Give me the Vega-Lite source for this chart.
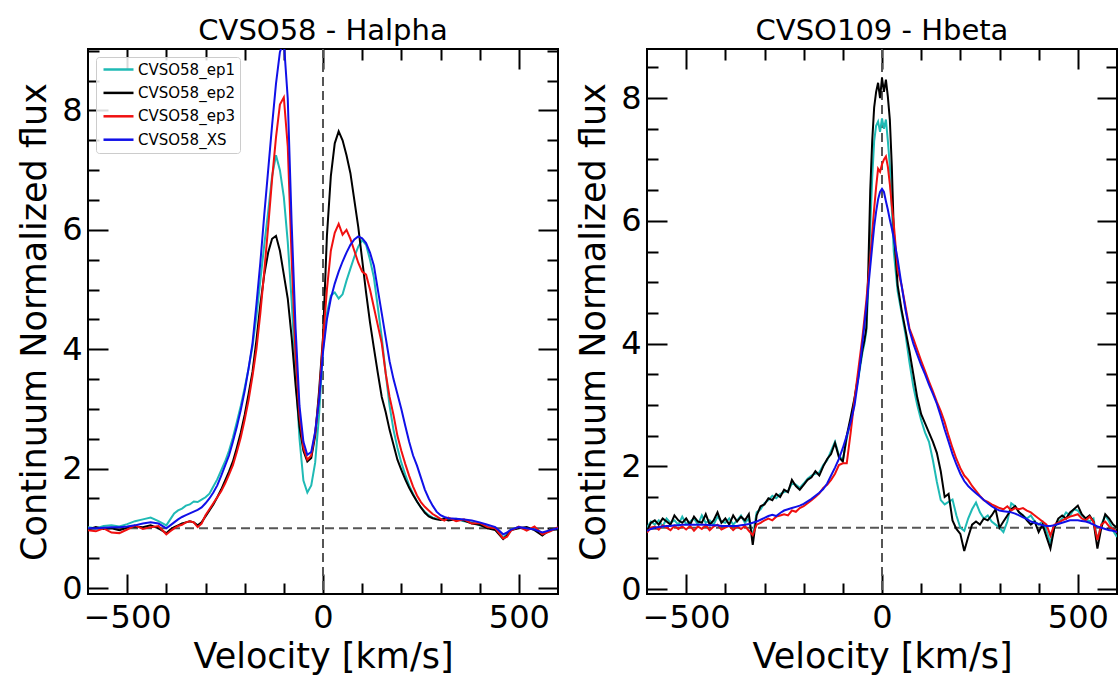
{
  "$schema": "https://vega.github.io/schema/vega-lite/v6.json",
  "background": "white",
  "padding": {"left": 16, "top": 16, "right": 0, "bottom": 0},
  "spacing": 15,
  "config": {
    "font": "DejaVu Sans",
    "view": {"stroke": "black", "strokeWidth": 2},
    "axis": {"grid": false, "domain": false, "tickColor": "black", "tickWidth": 2, "labelColor": "black", "titleColor": "black", "labelFont": "DejaVu Sans", "titleFont": "DejaVu Sans", "titleFontWeight": "normal", "labelFontSize": 32, "titleFontSize": 35},
    "title": {"font": "DejaVu Sans", "fontSize": 29, "fontWeight": "normal", "color": "black", "offset": 2, "frame": "group"},
    "legend": {"labelFont": "DejaVu Sans", "labelFontSize": 15, "labelColor": "black", "symbolType": "M-3,0H3", "symbolSize": 100, "symbolOffset": 10, "symbolStrokeWidth": 2.5, "fillColor": "rgba(255,255,255,0.85)", "strokeColor": "#cccccc", "padding": 5, "cornerRadius": 3, "labelOffset": 12, "rowPadding": 7.4}
  },
  "hconcat": [
    {
      "title": {"text": "CVSO58 - Halpha"},
      "width": 470,
      "height": 545,
      "layer": [
        {
          "data": {"values": [{"f": 1}]},
          "mark": {"type": "rule", "color": "#555555", "strokeWidth": 2, "strokeDash": [9, 5]},
          "encoding": {
            "y": {"field": "f", "type": "quantitative", "scale": {"domain": [-0.1, 9.03], "nice": false, "zero": false},
              "axis": {"orient": "right", "values": [0,2,4,6,8], "labels": false, "title": null, "tickSize": -20}}
          }
        },
        {
          "data": {"values": [{"v": 0}]},
          "mark": {"type": "rule", "color": "#555555", "strokeWidth": 2, "strokeDash": [9, 5]},
          "encoding": {
            "x": {"field": "v", "type": "quantitative", "scale": {"domain": [-600, 600], "nice": false, "zero": false},
              "axis": {"orient": "top", "values": [-500,0,500], "labels": false, "title": null, "tickSize": -20}}
          }
        },
        {
          "data": {"values": [{"v": 0, "f": 1}]},
          "mark": {"type": "point", "opacity": 0},
          "encoding": {
            "x": {"field": "v", "type": "quantitative", "scale": {"domain": [-600, 600], "nice": false, "zero": false},
              "axis": {"orient": "bottom", "values": [-500,0,500], "labels": false, "title": null, "tickSize": -20}},
            "y": {"field": "f", "type": "quantitative", "scale": {"domain": [-0.1, 9.03], "nice": false, "zero": false},
              "axis": {"orient": "left", "values": [0,2,4,6,8], "labels": false, "title": null, "tickSize": -20}}
          }
        },
        {
          "data": {"values": [{"v": 0, "f": 1}]},
          "mark": {"type": "point", "opacity": 0},
          "encoding": {
            "x": {"field": "v", "type": "quantitative", "scale": {"domain": [-600, 600], "nice": false, "zero": false},
              "axis": {"orient": "bottom", "values": [-400,-300,-200,-100,100,200,300,400], "labels": false, "title": null, "tickSize": -11}},
            "y": {"field": "f", "type": "quantitative", "scale": {"domain": [-0.1, 9.03], "nice": false, "zero": false},
              "axis": {"orient": "left", "values": [0.5,1,1.5,2.5,3,3.5,4.5,5,5.5,6.5,7,7.5,8.5,9], "labels": false, "title": null, "tickSize": -11}}
          }
        },
        {
          "data": {"values": [{"v": 0, "f": 1}]},
          "mark": {"type": "point", "opacity": 0},
          "encoding": {
            "x": {"field": "v", "type": "quantitative", "scale": {"domain": [-600, 600], "nice": false, "zero": false},
              "axis": {"orient": "top", "values": [-400,-300,-200,-100,100,200,300,400], "labels": false, "title": null, "tickSize": -11}},
            "y": {"field": "f", "type": "quantitative", "scale": {"domain": [-0.1, 9.03], "nice": false, "zero": false},
              "axis": {"orient": "right", "values": [0.5,1,1.5,2.5,3,3.5,4.5,5,5.5,6.5,7,7.5,8.5,9], "labels": false, "title": null, "tickSize": -11}}
          }
        },
        {
          "data": {"values": [
            {"v":-600,"ep1":1.02,"ep2":0.98,"ep3":0.97,"XS":1.00},
            {"v":-580,"ep1":1.00,"ep2":1.02,"ep3":0.95,"XS":1.00},
            {"v":-560,"ep1":1.04,"ep2":0.99,"ep3":1.00,"XS":1.01},
            {"v":-540,"ep1":1.05,"ep2":1.00,"ep3":0.93,"XS":1.02},
            {"v":-520,"ep1":1.03,"ep2":0.97,"ep3":0.92,"XS":1.02},
            {"v":-500,"ep1":1.07,"ep2":1.01,"ep3":0.98,"XS":1.03},
            {"v":-480,"ep1":1.12,"ep2":1.03,"ep3":1.05,"XS":1.05},
            {"v":-460,"ep1":1.15,"ep2":1.02,"ep3":0.99,"XS":1.08},
            {"v":-440,"ep1":1.18,"ep2":1.05,"ep3":1.02,"XS":1.10},
            {"v":-420,"ep1":1.12,"ep2":1.00,"ep3":1.04,"XS":1.08},
            {"v":-400,"ep1":1.05,"ep2":0.92,"ep3":0.90,"XS":1.00},
            {"v":-390,"ep1":1.15,"ep2":0.98,"ep3":0.95,"XS":1.05},
            {"v":-380,"ep1":1.25,"ep2":1.02,"ep3":1.00,"XS":1.10},
            {"v":-370,"ep1":1.30,"ep2":1.05,"ep3":1.04,"XS":1.15},
            {"v":-360,"ep1":1.33,"ep2":1.08,"ep3":1.06,"XS":1.19},
            {"v":-350,"ep1":1.38,"ep2":1.10,"ep3":1.10,"XS":1.22},
            {"v":-340,"ep1":1.40,"ep2":1.12,"ep3":1.12,"XS":1.25},
            {"v":-330,"ep1":1.45,"ep2":1.10,"ep3":1.10,"XS":1.28},
            {"v":-320,"ep1":1.44,"ep2":1.05,"ep3":1.02,"XS":1.31},
            {"v":-310,"ep1":1.48,"ep2":1.10,"ep3":1.08,"XS":1.35},
            {"v":-300,"ep1":1.52,"ep2":1.20,"ep3":1.22,"XS":1.42},
            {"v":-290,"ep1":1.58,"ep2":1.30,"ep3":1.32,"XS":1.50},
            {"v":-280,"ep1":1.70,"ep2":1.40,"ep3":1.42,"XS":1.60},
            {"v":-270,"ep1":1.82,"ep2":1.52,"ep3":1.52,"XS":1.72},
            {"v":-260,"ep1":1.97,"ep2":1.65,"ep3":1.62,"XS":1.88},
            {"v":-250,"ep1":2.12,"ep2":1.80,"ep3":1.75,"XS":2.05},
            {"v":-240,"ep1":2.30,"ep2":1.95,"ep3":1.90,"XS":2.22},
            {"v":-230,"ep1":2.52,"ep2":2.12,"ep3":2.06,"XS":2.45},
            {"v":-220,"ep1":2.78,"ep2":2.35,"ep3":2.28,"XS":2.70},
            {"v":-210,"ep1":3.05,"ep2":2.60,"ep3":2.52,"XS":2.98},
            {"v":-200,"ep1":3.35,"ep2":2.90,"ep3":2.82,"XS":3.30},
            {"v":-190,"ep1":3.68,"ep2":3.25,"ep3":3.15,"XS":3.68},
            {"v":-180,"ep1":4.05,"ep2":3.62,"ep3":3.55,"XS":4.10},
            {"v":-170,"ep1":4.55,"ep2":4.15,"ep3":4.00,"XS":4.75},
            {"v":-160,"ep1":5.15,"ep2":4.75,"ep3":4.60,"XS":5.45},
            {"v":-150,"ep1":5.75,"ep2":5.25,"ep3":5.30,"XS":6.25},
            {"v":-140,"ep1":6.30,"ep2":5.62,"ep3":6.05,"XS":7.00},
            {"v":-130,"ep1":6.90,"ep2":5.85,"ep3":6.85,"XS":7.75},
            {"v":-120,"ep1":7.25,"ep2":5.90,"ep3":7.55,"XS":8.45},
            {"v":-110,"ep1":7.00,"ep2":5.65,"ep3":8.10,"XS":8.98},
            {"v":-100,"ep1":6.55,"ep2":5.25,"ep3":8.22,"XS":9.15},
            {"v":-90,"ep1":5.80,"ep2":4.85,"ep3":7.40,"XS":8.20},
            {"v":-80,"ep1":4.80,"ep2":4.20,"ep3":5.50,"XS":6.10},
            {"v":-70,"ep1":3.60,"ep2":3.40,"ep3":3.90,"XS":4.35},
            {"v":-60,"ep1":2.50,"ep2":2.70,"ep3":2.90,"XS":3.05},
            {"v":-50,"ep1":1.80,"ep2":2.30,"ep3":2.35,"XS":2.45},
            {"v":-40,"ep1":1.60,"ep2":2.12,"ep3":2.15,"XS":2.23},
            {"v":-30,"ep1":1.72,"ep2":2.18,"ep3":2.22,"XS":2.28},
            {"v":-20,"ep1":2.10,"ep2":2.55,"ep3":2.60,"XS":2.62},
            {"v":-10,"ep1":2.90,"ep2":3.30,"ep3":3.20,"XS":3.15},
            {"v":0,"ep1":4.00,"ep2":4.20,"ep3":4.15,"XS":3.95},
            {"v":10,"ep1":4.60,"ep2":5.90,"ep3":5.00,"XS":4.50},
            {"v":20,"ep1":4.90,"ep2":6.90,"ep3":5.65,"XS":4.85},
            {"v":30,"ep1":4.95,"ep2":7.45,"ep3":5.95,"XS":5.10},
            {"v":40,"ep1":4.85,"ep2":7.65,"ep3":6.10,"XS":5.30},
            {"v":50,"ep1":4.92,"ep2":7.50,"ep3":5.92,"XS":5.47},
            {"v":60,"ep1":5.15,"ep2":7.25,"ep3":6.00,"XS":5.62},
            {"v":70,"ep1":5.35,"ep2":6.95,"ep3":5.85,"XS":5.75},
            {"v":80,"ep1":5.55,"ep2":6.50,"ep3":5.65,"XS":5.84},
            {"v":90,"ep1":5.72,"ep2":6.05,"ep3":5.45,"XS":5.89},
            {"v":100,"ep1":5.83,"ep2":5.50,"ep3":5.30,"XS":5.86},
            {"v":110,"ep1":5.75,"ep2":4.95,"ep3":5.25,"XS":5.78},
            {"v":120,"ep1":5.50,"ep2":4.45,"ep3":5.00,"XS":5.62},
            {"v":130,"ep1":5.20,"ep2":4.02,"ep3":4.70,"XS":5.40},
            {"v":140,"ep1":4.70,"ep2":3.60,"ep3":4.40,"XS":5.00},
            {"v":150,"ep1":4.20,"ep2":3.20,"ep3":4.10,"XS":4.60},
            {"v":160,"ep1":3.60,"ep2":2.95,"ep3":3.60,"XS":4.20},
            {"v":170,"ep1":3.05,"ep2":2.65,"ep3":3.20,"XS":3.80},
            {"v":180,"ep1":2.65,"ep2":2.40,"ep3":2.90,"XS":3.50},
            {"v":190,"ep1":2.35,"ep2":2.15,"ep3":2.55,"XS":3.25},
            {"v":200,"ep1":2.10,"ep2":1.98,"ep3":2.30,"XS":3.00},
            {"v":210,"ep1":1.90,"ep2":1.82,"ep3":2.08,"XS":2.72},
            {"v":220,"ep1":1.72,"ep2":1.68,"ep3":1.88,"XS":2.45},
            {"v":230,"ep1":1.58,"ep2":1.56,"ep3":1.70,"XS":2.22},
            {"v":240,"ep1":1.45,"ep2":1.45,"ep3":1.55,"XS":2.05},
            {"v":250,"ep1":1.35,"ep2":1.35,"ep3":1.44,"XS":1.85},
            {"v":260,"ep1":1.28,"ep2":1.26,"ep3":1.36,"XS":1.65},
            {"v":270,"ep1":1.22,"ep2":1.20,"ep3":1.30,"XS":1.50},
            {"v":280,"ep1":1.18,"ep2":1.17,"ep3":1.24,"XS":1.38},
            {"v":290,"ep1":1.16,"ep2":1.15,"ep3":1.20,"XS":1.28},
            {"v":300,"ep1":1.15,"ep2":1.14,"ep3":1.16,"XS":1.22},
            {"v":310,"ep1":1.17,"ep2":1.16,"ep3":1.13,"XS":1.19},
            {"v":320,"ep1":1.14,"ep2":1.13,"ep3":1.18,"XS":1.17},
            {"v":340,"ep1":1.16,"ep2":1.15,"ep3":1.12,"XS":1.16},
            {"v":360,"ep1":1.12,"ep2":1.13,"ep3":1.15,"XS":1.15},
            {"v":380,"ep1":1.10,"ep2":1.08,"ep3":1.08,"XS":1.13},
            {"v":400,"ep1":1.05,"ep2":1.06,"ep3":1.09,"XS":1.10},
            {"v":420,"ep1":1.03,"ep2":1.00,"ep3":1.02,"XS":1.06},
            {"v":440,"ep1":0.98,"ep2":0.97,"ep3":1.00,"XS":1.02},
            {"v":460,"ep1":0.85,"ep2":0.82,"ep3":0.83,"XS":0.90},
            {"v":470,"ep1":0.90,"ep2":0.88,"ep3":0.86,"XS":0.93},
            {"v":480,"ep1":0.98,"ep2":0.97,"ep3":0.96,"XS":0.98},
            {"v":500,"ep1":1.02,"ep2":1.00,"ep3":1.03,"XS":1.02},
            {"v":520,"ep1":0.98,"ep2":1.02,"ep3":0.96,"XS":1.00},
            {"v":540,"ep1":1.00,"ep2":0.97,"ep3":1.03,"XS":0.98},
            {"v":560,"ep1":0.90,"ep2":0.88,"ep3":0.90,"XS":0.93},
            {"v":580,"ep1":0.96,"ep2":0.98,"ep3":0.95,"XS":0.97},
            {"v":600,"ep1":1.00,"ep2":0.98,"ep3":1.02,"XS":1.00}
          ]},
          "transform": [{"fold": ["ep1", "ep2", "ep3", "XS"], "as": ["series", "f"]}],
          "mark": {"type": "line", "strokeWidth": 2, "clip": true},
          "encoding": {
            "x": {"field": "v", "type": "quantitative", "scale": {"domain": [-600, 600], "nice": false, "zero": false},
              "axis": {"orient": "bottom", "values": [-500,0,500], "ticks": false, "labelExpr": "format(datum.value, 'd')", "title": "Velocity [km/s]", "labelPadding": 8, "titlePadding": 6}},
            "y": {"field": "f", "type": "quantitative", "scale": {"domain": [-0.1, 9.03], "nice": false, "zero": false},
              "axis": {"orient": "left", "values": [0,2,4,6,8], "ticks": false, "labelExpr": "format(datum.value, 'd')", "title": "Continuum Normalized flux", "labelPadding": 6, "titlePadding": 9}},
            "color": {"field": "series", "type": "nominal", "scale": {"domain": ["ep1", "ep2", "ep3", "XS"], "range": ["#1fbab5", "#000000", "#f01010", "#1010e8"]},
              "legend": {"orient": "top-left", "offset": 8, "title": null, "labelFontSize": 15, "labelExpr": "'CVSO58_' + datum.label"}}
          }
        }
      ],
      "resolve": {"axis": {"x": "independent", "y": "independent"}}
    },
    {
      "title": {"text": "CVSO109 - Hbeta"},
      "width": 470,
      "height": 545,
      "layer": [
        {
          "data": {"values": [{"f": 1}]},
          "mark": {"type": "rule", "color": "#555555", "strokeWidth": 2, "strokeDash": [9, 5]},
          "encoding": {
            "y": {"field": "f", "type": "quantitative", "scale": {"domain": [-0.08, 8.8], "nice": false, "zero": false},
              "axis": {"orient": "right", "values": [0,2,4,6,8], "labels": false, "title": null, "tickSize": -20}}
          }
        },
        {
          "data": {"values": [{"v": 0}]},
          "mark": {"type": "rule", "color": "#555555", "strokeWidth": 2, "strokeDash": [9, 5]},
          "encoding": {
            "x": {"field": "v", "type": "quantitative", "scale": {"domain": [-600, 600], "nice": false, "zero": false},
              "axis": {"orient": "top", "values": [-500,0,500], "labels": false, "title": null, "tickSize": -20}}
          }
        },
        {
          "data": {"values": [{"v": 0, "f": 1}]},
          "mark": {"type": "point", "opacity": 0},
          "encoding": {
            "x": {"field": "v", "type": "quantitative", "scale": {"domain": [-600, 600], "nice": false, "zero": false},
              "axis": {"orient": "bottom", "values": [-500,0,500], "labels": false, "title": null, "tickSize": -20}},
            "y": {"field": "f", "type": "quantitative", "scale": {"domain": [-0.08, 8.8], "nice": false, "zero": false},
              "axis": {"orient": "left", "values": [0,2,4,6,8], "labels": false, "title": null, "tickSize": -20}}
          }
        },
        {
          "data": {"values": [{"v": 0, "f": 1}]},
          "mark": {"type": "point", "opacity": 0},
          "encoding": {
            "x": {"field": "v", "type": "quantitative", "scale": {"domain": [-600, 600], "nice": false, "zero": false},
              "axis": {"orient": "bottom", "values": [-400,-300,-200,-100,100,200,300,400], "labels": false, "title": null, "tickSize": -11}},
            "y": {"field": "f", "type": "quantitative", "scale": {"domain": [-0.08, 8.8], "nice": false, "zero": false},
              "axis": {"orient": "left", "values": [0.5,1,1.5,2.5,3,3.5,4.5,5,5.5,6.5,7,7.5,8.5], "labels": false, "title": null, "tickSize": -11}}
          }
        },
        {
          "data": {"values": [{"v": 0, "f": 1}]},
          "mark": {"type": "point", "opacity": 0},
          "encoding": {
            "x": {"field": "v", "type": "quantitative", "scale": {"domain": [-600, 600], "nice": false, "zero": false},
              "axis": {"orient": "top", "values": [-400,-300,-200,-100,100,200,300,400], "labels": false, "title": null, "tickSize": -11}},
            "y": {"field": "f", "type": "quantitative", "scale": {"domain": [-0.08, 8.8], "nice": false, "zero": false},
              "axis": {"orient": "right", "values": [0.5,1,1.5,2.5,3,3.5,4.5,5,5.5,6.5,7,7.5,8.5], "labels": false, "title": null, "tickSize": -11}}
          }
        },
        {
          "data": {"values": [
            {"v":-600,"ep1":1.00,"ep2":0.95,"ep3":0.92,"XS":0.95},
            {"v":-590,"ep1":1.10,"ep2":1.08,"ep3":1.00,"XS":0.98},
            {"v":-580,"ep1":1.05,"ep2":1.12,"ep3":1.02,"XS":1.00},
            {"v":-570,"ep1":1.12,"ep2":1.05,"ep3":0.97,"XS":1.01},
            {"v":-560,"ep1":1.02,"ep2":1.15,"ep3":1.04,"XS":1.02},
            {"v":-550,"ep1":1.15,"ep2":1.10,"ep3":1.00,"XS":1.03},
            {"v":-540,"ep1":1.08,"ep2":1.05,"ep3":0.96,"XS":1.03},
            {"v":-530,"ep1":1.12,"ep2":1.20,"ep3":1.03,"XS":1.04},
            {"v":-520,"ep1":1.05,"ep2":1.12,"ep3":0.98,"XS":1.04},
            {"v":-510,"ep1":1.18,"ep2":1.08,"ep3":1.02,"XS":1.05},
            {"v":-500,"ep1":1.06,"ep2":1.15,"ep3":0.97,"XS":1.05},
            {"v":-490,"ep1":1.10,"ep2":1.05,"ep3":1.03,"XS":1.05},
            {"v":-480,"ep1":1.15,"ep2":1.18,"ep3":0.95,"XS":1.05},
            {"v":-470,"ep1":1.05,"ep2":1.10,"ep3":1.02,"XS":1.05},
            {"v":-460,"ep1":1.20,"ep2":1.08,"ep3":0.98,"XS":1.05},
            {"v":-450,"ep1":1.08,"ep2":1.22,"ep3":1.04,"XS":1.05},
            {"v":-440,"ep1":1.12,"ep2":1.05,"ep3":0.96,"XS":1.04},
            {"v":-430,"ep1":1.05,"ep2":1.12,"ep3":1.02,"XS":1.04},
            {"v":-420,"ep1":1.18,"ep2":1.25,"ep3":1.05,"XS":1.04},
            {"v":-410,"ep1":1.10,"ep2":1.08,"ep3":0.97,"XS":1.03},
            {"v":-400,"ep1":1.08,"ep2":1.15,"ep3":1.00,"XS":1.03},
            {"v":-390,"ep1":1.15,"ep2":1.05,"ep3":1.03,"XS":1.03},
            {"v":-380,"ep1":1.05,"ep2":1.20,"ep3":0.96,"XS":1.03},
            {"v":-370,"ep1":1.12,"ep2":1.10,"ep3":1.02,"XS":1.03},
            {"v":-360,"ep1":1.20,"ep2":1.18,"ep3":0.98,"XS":1.04},
            {"v":-350,"ep1":1.08,"ep2":1.12,"ep3":1.03,"XS":1.05},
            {"v":-340,"ep1":1.15,"ep2":1.22,"ep3":0.95,"XS":1.06},
            {"v":-330,"ep1":0.85,"ep2":0.72,"ep3":0.88,"XS":1.08},
            {"v":-320,"ep1":1.25,"ep2":1.20,"ep3":1.05,"XS":1.10},
            {"v":-310,"ep1":1.30,"ep2":1.35,"ep3":1.08,"XS":1.13},
            {"v":-300,"ep1":1.40,"ep2":1.38,"ep3":1.12,"XS":1.16},
            {"v":-290,"ep1":1.45,"ep2":1.48,"ep3":1.15,"XS":1.19},
            {"v":-280,"ep1":1.52,"ep2":1.45,"ep3":1.12,"XS":1.21},
            {"v":-270,"ep1":1.48,"ep2":1.55,"ep3":1.18,"XS":1.19},
            {"v":-260,"ep1":1.55,"ep2":1.50,"ep3":1.20,"XS":1.24},
            {"v":-250,"ep1":1.58,"ep2":1.62,"ep3":1.22,"XS":1.28},
            {"v":-240,"ep1":1.60,"ep2":1.58,"ep3":1.20,"XS":1.30},
            {"v":-230,"ep1":1.72,"ep2":1.78,"ep3":1.28,"XS":1.32},
            {"v":-220,"ep1":1.70,"ep2":1.68,"ep3":1.26,"XS":1.34},
            {"v":-210,"ep1":1.65,"ep2":1.62,"ep3":1.32,"XS":1.36},
            {"v":-200,"ep1":1.72,"ep2":1.70,"ep3":1.35,"XS":1.39},
            {"v":-190,"ep1":1.80,"ep2":1.78,"ep3":1.40,"XS":1.43},
            {"v":-180,"ep1":1.85,"ep2":1.82,"ep3":1.45,"XS":1.47},
            {"v":-170,"ep1":1.88,"ep2":1.92,"ep3":1.50,"XS":1.52},
            {"v":-160,"ep1":1.90,"ep2":1.85,"ep3":1.56,"XS":1.57},
            {"v":-150,"ep1":2.02,"ep2":2.00,"ep3":1.65,"XS":1.63},
            {"v":-140,"ep1":2.10,"ep2":2.12,"ep3":1.70,"XS":1.72},
            {"v":-130,"ep1":2.25,"ep2":2.20,"ep3":1.78,"XS":1.85},
            {"v":-120,"ep1":2.40,"ep2":2.38,"ep3":1.88,"XS":1.98},
            {"v":-110,"ep1":2.18,"ep2":2.15,"ep3":2.02,"XS":2.12},
            {"v":-100,"ep1":2.10,"ep2":2.08,"ep3":2.05,"XS":2.30},
            {"v":-90,"ep1":2.45,"ep2":2.50,"ep3":2.05,"XS":2.50},
            {"v":-80,"ep1":2.75,"ep2":2.80,"ep3":2.55,"XS":2.72},
            {"v":-70,"ep1":3.10,"ep2":3.12,"ep3":3.10,"XS":3.00},
            {"v":-60,"ep1":3.45,"ep2":3.50,"ep3":3.60,"XS":3.45},
            {"v":-50,"ep1":3.85,"ep2":3.90,"ep3":4.10,"XS":4.00},
            {"v":-45,"ep1":4.00,"ep2":4.05,"ep3":4.40,"XS":4.30},
            {"v":-40,"ep1":4.20,"ep2":4.25,"ep3":4.70,"XS":4.60},
            {"v":-35,"ep1":4.90,"ep2":5.20,"ep3":5.05,"XS":4.92},
            {"v":-30,"ep1":5.90,"ep2":6.50,"ep3":5.40,"XS":5.25},
            {"v":-25,"ep1":6.70,"ep2":7.30,"ep3":5.80,"XS":5.58},
            {"v":-20,"ep1":7.30,"ep2":7.85,"ep3":6.20,"XS":5.90},
            {"v":-15,"ep1":7.55,"ep2":8.10,"ep3":6.55,"XS":6.15},
            {"v":-10,"ep1":7.62,"ep2":8.25,"ep3":6.85,"XS":6.35},
            {"v":-5,"ep1":7.45,"ep2":8.00,"ep3":6.80,"XS":6.47},
            {"v":0,"ep1":7.67,"ep2":8.33,"ep3":6.92,"XS":6.52},
            {"v":5,"ep1":7.50,"ep2":8.10,"ep3":7.00,"XS":6.47},
            {"v":10,"ep1":7.65,"ep2":8.30,"ep3":7.05,"XS":6.32},
            {"v":15,"ep1":7.30,"ep2":8.02,"ep3":6.88,"XS":6.18},
            {"v":20,"ep1":6.90,"ep2":7.65,"ep3":6.60,"XS":6.02},
            {"v":25,"ep1":6.20,"ep2":6.90,"ep3":6.25,"XS":5.88},
            {"v":30,"ep1":5.50,"ep2":5.85,"ep3":5.95,"XS":5.72},
            {"v":40,"ep1":4.85,"ep2":4.95,"ep3":5.20,"XS":5.37},
            {"v":50,"ep1":4.50,"ep2":4.55,"ep3":4.95,"XS":4.95},
            {"v":60,"ep1":4.15,"ep2":4.22,"ep3":4.60,"XS":4.55},
            {"v":70,"ep1":3.70,"ep2":3.88,"ep3":4.25,"XS":4.22},
            {"v":80,"ep1":3.30,"ep2":3.50,"ep3":4.08,"XS":4.00},
            {"v":90,"ep1":3.00,"ep2":3.12,"ep3":3.90,"XS":3.82},
            {"v":100,"ep1":2.75,"ep2":2.85,"ep3":3.72,"XS":3.65},
            {"v":110,"ep1":2.55,"ep2":2.70,"ep3":3.55,"XS":3.50},
            {"v":120,"ep1":2.40,"ep2":2.55,"ep3":3.38,"XS":3.33},
            {"v":130,"ep1":2.10,"ep2":2.40,"ep3":3.22,"XS":3.18},
            {"v":140,"ep1":1.75,"ep2":2.22,"ep3":3.05,"XS":3.02},
            {"v":150,"ep1":1.45,"ep2":1.92,"ep3":2.90,"XS":2.82},
            {"v":160,"ep1":1.38,"ep2":1.50,"ep3":2.72,"XS":2.60},
            {"v":170,"ep1":1.42,"ep2":1.55,"ep3":2.50,"XS":2.40},
            {"v":180,"ep1":1.46,"ep2":1.12,"ep3":2.30,"XS":2.20},
            {"v":190,"ep1":1.20,"ep2":0.98,"ep3":2.12,"XS":2.03},
            {"v":200,"ep1":1.00,"ep2":0.90,"ep3":1.97,"XS":1.88},
            {"v":210,"ep1":0.95,"ep2":0.62,"ep3":1.85,"XS":1.76},
            {"v":220,"ep1":1.15,"ep2":0.85,"ep3":1.78,"XS":1.68},
            {"v":230,"ep1":1.30,"ep2":1.05,"ep3":1.68,"XS":1.62},
            {"v":240,"ep1":1.41,"ep2":1.10,"ep3":1.60,"XS":1.56},
            {"v":250,"ep1":1.25,"ep2":1.05,"ep3":1.52,"XS":1.51},
            {"v":260,"ep1":1.15,"ep2":1.15,"ep3":1.45,"XS":1.45},
            {"v":270,"ep1":1.20,"ep2":1.12,"ep3":1.42,"XS":1.40},
            {"v":280,"ep1":1.10,"ep2":1.20,"ep3":1.38,"XS":1.35},
            {"v":290,"ep1":1.05,"ep2":1.30,"ep3":1.35,"XS":1.31},
            {"v":300,"ep1":1.00,"ep2":1.00,"ep3":1.32,"XS":1.28},
            {"v":310,"ep1":0.93,"ep2":1.10,"ep3":1.30,"XS":1.27},
            {"v":320,"ep1":1.10,"ep2":1.20,"ep3":1.35,"XS":1.26},
            {"v":330,"ep1":1.40,"ep2":1.30,"ep3":1.28,"XS":1.25},
            {"v":340,"ep1":1.35,"ep2":1.35,"ep3":1.32,"XS":1.23},
            {"v":350,"ep1":1.25,"ep2":1.25,"ep3":1.30,"XS":1.20},
            {"v":360,"ep1":1.20,"ep2":1.20,"ep3":1.32,"XS":1.17},
            {"v":370,"ep1":1.15,"ep2":1.12,"ep3":1.28,"XS":1.14},
            {"v":380,"ep1":1.20,"ep2":1.05,"ep3":1.25,"XS":1.10},
            {"v":390,"ep1":1.10,"ep2":1.10,"ep3":1.20,"XS":1.08},
            {"v":400,"ep1":1.05,"ep2":0.93,"ep3":1.15,"XS":1.06},
            {"v":410,"ep1":1.10,"ep2":1.05,"ep3":1.10,"XS":1.04},
            {"v":420,"ep1":0.95,"ep2":0.85,"ep3":1.05,"XS":1.03},
            {"v":430,"ep1":0.75,"ep2":0.66,"ep3":0.87,"XS":1.03},
            {"v":440,"ep1":1.00,"ep2":1.00,"ep3":1.05,"XS":1.04},
            {"v":450,"ep1":1.10,"ep2":1.15,"ep3":1.08,"XS":1.06},
            {"v":460,"ep1":1.15,"ep2":1.20,"ep3":1.12,"XS":1.08},
            {"v":470,"ep1":1.25,"ep2":1.15,"ep3":1.15,"XS":1.10},
            {"v":480,"ep1":1.20,"ep2":1.25,"ep3":1.18,"XS":1.12},
            {"v":490,"ep1":1.30,"ep2":1.30,"ep3":1.20,"XS":1.12},
            {"v":500,"ep1":1.28,"ep2":1.36,"ep3":1.22,"XS":1.12},
            {"v":510,"ep1":1.20,"ep2":1.22,"ep3":1.15,"XS":1.11},
            {"v":520,"ep1":1.15,"ep2":1.15,"ep3":1.12,"XS":1.10},
            {"v":530,"ep1":1.10,"ep2":1.20,"ep3":1.18,"XS":1.08},
            {"v":540,"ep1":1.15,"ep2":1.10,"ep3":1.10,"XS":1.05},
            {"v":550,"ep1":0.80,"ep2":0.66,"ep3":0.80,"XS":1.02},
            {"v":560,"ep1":1.05,"ep2":1.00,"ep3":1.05,"XS":1.00},
            {"v":570,"ep1":1.20,"ep2":1.22,"ep3":1.10,"XS":0.98},
            {"v":580,"ep1":1.10,"ep2":1.15,"ep3":1.02,"XS":0.96},
            {"v":590,"ep1":0.95,"ep2":1.05,"ep3":0.98,"XS":0.95},
            {"v":600,"ep1":0.85,"ep2":1.00,"ep3":0.92,"XS":0.93}
          ]},
          "transform": [{"fold": ["ep1", "ep2", "ep3", "XS"], "as": ["series", "f"]}],
          "mark": {"type": "line", "strokeWidth": 2, "clip": true},
          "encoding": {
            "x": {"field": "v", "type": "quantitative", "scale": {"domain": [-600, 600], "nice": false, "zero": false},
              "axis": {"orient": "bottom", "values": [-500,0,500], "ticks": false, "labelExpr": "format(datum.value, 'd')", "title": "Velocity [km/s]", "labelPadding": 8, "titlePadding": 6}},
            "y": {"field": "f", "type": "quantitative", "scale": {"domain": [-0.08, 8.8], "nice": false, "zero": false},
              "axis": {"orient": "left", "values": [0,2,4,6,8], "ticks": false, "labelExpr": "format(datum.value, 'd')", "title": "Continuum Normalized flux", "labelPadding": 6, "titlePadding": 9}},
            "color": {"field": "series", "type": "nominal", "scale": {"domain": ["ep1", "ep2", "ep3", "XS"], "range": ["#1fbab5", "#000000", "#f01010", "#1010e8"]},
              "legend": {"orient": "top-left", "offset": 8, "title": null, "labelFontSize": 15, "labelExpr": "'CVSO109_' + datum.label"}}
          }
        }
      ],
      "resolve": {"axis": {"x": "independent", "y": "independent"}}
    }
  ]
}
